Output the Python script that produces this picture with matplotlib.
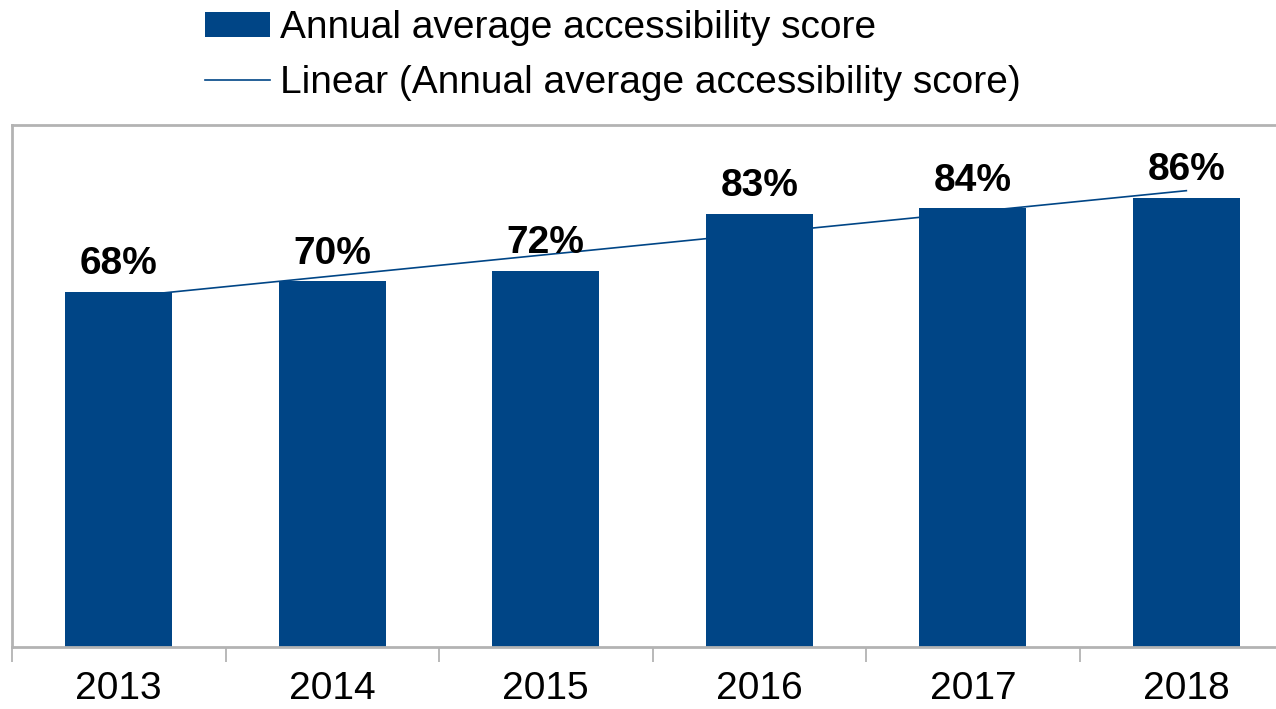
import matplotlib.pyplot as plt
import numpy as np

plt.rcParams['font.family'] = ['Liberation Sans', 'DejaVu Sans']

years = ['2013', '2014', '2015', '2016', '2017', '2018']
scores = [68, 70, 72, 83, 84, 86]
series_name = 'Annual average accessibility score'
bar_color = '#004586'
frame_color = '#b3b3b3'

x = np.arange(len(years))

fig = plt.figure(figsize=(12.76, 7.09), dpi=100)
# plot area runs a little past the right edge, as in the original export
ax = fig.add_axes([0.0094, 0.0875, 1.004, 0.7365])

# linear trend line, drawn behind the bars
slope, intercept = np.polyfit(x, scores, 1)
ax.plot(x, slope * x + intercept, color=bar_color, lw=1.2, zorder=1,
        label='Linear (' + series_name + ')')
bars = ax.bar(x, scores, width=0.5, color=bar_color, zorder=2, label=series_name)

for xi, v in zip(x, scores):
    ax.annotate(f'{v}%', (xi, v), xytext=(0, 7), textcoords='offset points',
                ha='center', va='bottom', fontsize=28, fontweight='bold')

ax.set_xlim(-0.5, len(years) - 0.5)
ax.set_ylim(0, 100)
ax.set_yticks([])
ax.set_xticks(x)
ax.set_xticklabels(years, fontsize=28)
ax.tick_params(axis='x', which='major', length=0, pad=17)
ax.set_xticks(np.arange(-0.5, len(years)), minor=True)
ax.tick_params(axis='x', which='minor', length=11, width=1.3, color=frame_color)

for side in ['left', 'top', 'bottom']:
    ax.spines[side].set_color(frame_color)
    ax.spines[side].set_linewidth(2)
ax.spines['right'].set_visible(False)

handles, labels = ax.get_legend_handles_labels()
fig.legend(handles[::-1], labels[::-1], loc='upper left', bbox_to_anchor=(0.133, 1.035),
           frameon=False, fontsize=28, handlelength=1.67, handleheight=0.62,
           handletextpad=0.26, labelspacing=0.48)

fig.savefig('out.png', dpi=100)
